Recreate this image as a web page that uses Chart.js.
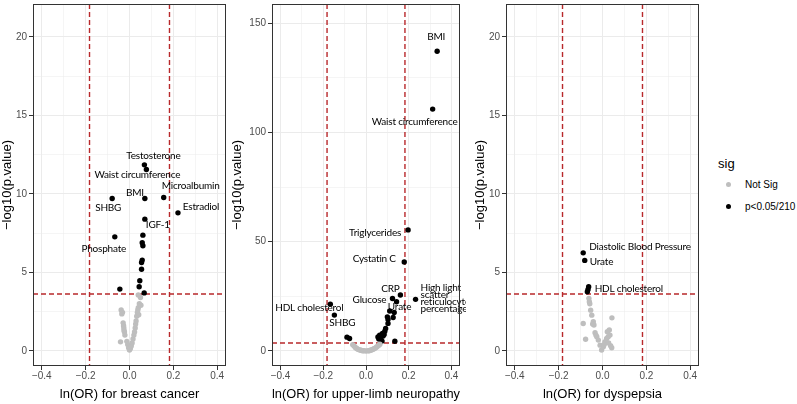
<!DOCTYPE html>
<html>
<head>
<meta charset="utf-8">
<script src="https://cdn.jsdelivr.net/npm/chart.js@4.4.0/dist/chart.umd.min.js"></script>
<style>
  body { margin: 0; background: #fff; width: 797px; height: 404px; overflow: hidden; position: relative;
         font-family: "Liberation Sans", Arial, sans-serif; }
  canvas { position: absolute; top: 0; }
  #c1 { left: 0; }
  #c2 { left: 230px; }
  #c3 { left: 473px; }
  .lg { position: absolute; line-height: 1; white-space: nowrap; }
  .dot { position: absolute; width: 5px; height: 5px; border-radius: 50%; }
</style>
</head>
<body>
<canvas id="c1" width="232" height="404"></canvas>
<canvas id="c2" width="236" height="404"></canvas>
<canvas id="c3" width="232" height="404"></canvas>

<div class="lg" style="left:718px; top:157px; font-size:13px; color:#000;">sig</div>
<div class="dot" style="left:726px; top:182px; background:#bebebe;"></div>
<div class="lg" style="left:745px; top:180px; font-size:10px; color:#000;">Not Sig</div>
<div class="dot" style="left:726px; top:204px; background:#000;"></div>
<div class="lg" style="left:745px; top:202px; font-size:10px; color:#000;">p&lt;0.05/210</div>

<script>
// ---- breast cancer ----
const bcSigX = [0.068, 0.077, 0.070, -0.079, 0.156, 0.221, 0.070, -0.067, 0.061, 0.058, 0.061, 0.058, 0.055, 0.055, 0.047, 0.044, 0.067, -0.044];
const bcSigY = [11.85, 11.55, 9.70, 9.70, 9.77, 8.79, 8.39, 7.26, 7.37, 6.88, 6.69, 5.78, 5.63, 5.20, 4.46, 4.08, 3.69, 3.93];
const bcSigNames = ['Testosterone', 'Waist circumference', 'BMI', 'SHBG', 'Microalbumin', 'Estradiol', 'IGF-1', 'Phosphate',
  '', '', '', '', '', '', '', '', '', ''];
const bcNsX = [-0.038, -0.035, -0.032, -0.029, -0.027, -0.026, -0.025, -0.023, -0.021, -0.041, -0.012, -0.008, -0.004, 0.000,
  0.004, 0.008, 0.012, 0.016, 0.020, 0.023, 0.026, 0.028, 0.030, 0.033, 0.036, 0.040, 0.045, 0.050, 0.040, 0.042, 0.038, 0.052];
const bcNsY = [2.60, 2.35, 2.45, 1.78, 1.60, 1.45, 1.30, 1.20, 1.00, 0.57, 0.60, 0.40, 0.20, 0.05,
  0.15, 0.30, 0.50, 0.75, 1.00, 1.20, 1.45, 1.70, 1.90, 2.20, 2.45, 2.75, 3.00, 3.40, 3.55, 2.30, 2.60, 2.90];

// ---- upper-limb neuropathy ----
const ulnSigX = [0.333, 0.312, 0.197, 0.179, 0.232, 0.161, 0.124, 0.143, -0.167, -0.148, -0.089, -0.077, 0.135,
  0.111, 0.132, 0.100, 0.127, 0.103, 0.103, 0.092, 0.088, 0.077, 0.064, 0.068, 0.080, 0.060, 0.070, 0.075, 0.085, 0.056];
const ulnSigY = [137.2, 110.7, 55.4, 40.7, 23.6, 25.6, 24.0, 22.5, 21.4, 16.4, 6.3, 5.7, 4.45,
  18.3, 17.6, 15.6, 15.3, 14.4, 12.6, 10.3, 9.0, 8.0, 7.2, 6.1, 6.8, 5.5, 5.0, 4.5, 7.5, 6.4];
const ulnSigNames = ['BMI', 'Waist circumference', 'Triglycerides', 'Cystatin C', 'High light\nscatter\nreticulocyte\npercentage',
  'CRP', 'Glucose', 'Urate', 'HDL cholesterol', 'SHBG', '', '', '',
  '', '', '', '', '', '', '', '', '', '', '', '', '', '', '', '', ''];
const ulnNsX = [-0.062, -0.055, -0.050, -0.045, -0.040, -0.035, -0.030, -0.025, -0.020, -0.015, -0.010, 0.000,
  0.010, 0.015, 0.020, 0.025, 0.030, 0.035, 0.040, 0.045, 0.050, 0.055, 0.060, 0.065];
const ulnNsY = [2.8, 2.2, 1.6, 1.2, 0.9, 0.6, 0.5, 0.3, 0.2, 0.1, 0.05, 0.0,
  0.05, 0.1, 0.3, 0.4, 0.6, 0.9, 1.1, 1.4, 1.8, 2.2, 2.6, 3.1];

// ---- dyspepsia ----
const dysSigX = [-0.088, -0.081, -0.063, -0.066, -0.069];
const dysSigY = [6.24, 5.76, 4.08, 3.91, 3.76];
const dysSigNames = ['Diastolic Blood Pressure', 'Urate', 'HDL cholesterol', '', ''];
const dysNsX = [-0.062, -0.060, -0.054, -0.049, -0.088, -0.042, -0.039, 0.043, -0.077, -0.034, -0.026, -0.019, -0.011,
  -0.004, 0.004, 0.011, 0.019, 0.026, 0.034, 0.031, 0.042, 0.022, 0.037, -0.030, 0.008, 0.015, -0.045, -0.058, 0.028];
const dysNsY = [3.34, 3.12, 2.59, 2.27, 1.74, 1.85, 1.64, 2.10, 0.73, 1.15, 0.89, 0.68, 0.36,
  0.05, 0.25, 0.57, 0.79, 0.90, 1.00, 1.32, 0.19, 1.21, 0.32, 1.00, 0.40, 0.60, 1.70, 3.00, 0.50];

// ticks
const xTickValues = [-0.4, -0.3, -0.2, -0.1, 0, 0.1, 0.2, 0.3, 0.4];
const yTicksSmall = [0, 2.5, 5, 7.5, 10, 12.5, 15, 17.5, 20];
const yTicksLarge = [0, 25, 50, 75, 100, 125, 150];

// thresholds: OR of 1.2 either way, Bonferroni p of 0.05/210
const orCut = Math.log(1.2);
const pCut = -Math.log10(0.05 / 210);

// label placement: [dx, dy, align] in pixels from the point
const bcLabelPos = {
  'Testosterone': [9, -9, 'center'],
  'Waist circumference': [-9, 5, 'center'],
  'BMI': [-10, -6, 'center'],
  'Microalbumin': [27, -12, 'center'],
  'SHBG': [-4, 9, 'center'],
  'Estradiol': [23, -6, 'center'],
  'IGF-1': [13, 6, 'center'],
  'Phosphate': [-11, 12, 'center']
};
const ulnLabelPos = {
  'BMI': [-1, -14, 'center'],
  'Waist circumference': [-18, 13, 'center'],
  'Triglycerides': [-33, 3, 'center'],
  'Cystatin C': [-30, -3, 'center'],
  'High light\nscatter\nreticulocyte\npercentage': [5, -1, 'left'],
  'CRP': [-10, -6, 'center'],
  'Glucose': [-23, 1, 'center'],
  'Urate': [3, 5, 'center'],
  'HDL cholesterol': [-21, 4, 'center'],
  'SHBG': [8, 8, 'center']
};
const dysLabelPos = {
  'Diastolic Blood Pressure': [6, -6, 'left'],
  'Urate': [5, 1, 'left'],
  'HDL cholesterol': [6, 2, 'left']
};

const GRID = '#ebebeb';
const LINE_RED = '#b8292b';
const TICK_FONT = { family: '"Liberation Sans", Arial, sans-serif', size: 10 };
const TITLE_FONT = { family: '"Liberation Sans", Arial, sans-serif', size: 13 };

function isMajor(v, step) {
  const r = v / step;
  return Math.abs(r - Math.round(r)) < 1e-6;
}

function fmtX(v) {
  return v.toFixed(1).replace('-', '\u2212');
}

const volcanoPlugin = {
  id: 'volcano',
  beforeDatasetsDraw(chart) {
    const { ctx, chartArea: a, scales: { x, y } } = chart;
    ctx.save();
    ctx.strokeStyle = LINE_RED;
    ctx.lineWidth = 1.4;
    ctx.setLineDash([5, 3]);
    [-orCut, orCut].forEach(v => {
      const px = x.getPixelForValue(v);
      ctx.beginPath(); ctx.moveTo(px, a.top); ctx.lineTo(px, a.bottom); ctx.stroke();
    });
    const py = y.getPixelForValue(pCut);
    ctx.beginPath(); ctx.moveTo(a.left, py); ctx.lineTo(a.right, py); ctx.stroke();
    ctx.restore();
  },
  afterDatasetsDraw(chart, args, opts) {
    const { ctx, scales: { x, y } } = chart;
    const names = opts.names, pos = opts.labelPos;
    const ds = chart.data.datasets[1].data;
    ctx.save();
    ctx.fillStyle = '#000';
    ctx.font = '10px Lato, "Open Sans", sans-serif';
    ctx.letterSpacing = '-0.2px';
    ctx.textBaseline = 'middle';
    names.forEach((name, i) => {
      if (!name || !pos[name]) return;
      const [dx, dy, align] = pos[name];
      const px = x.getPixelForValue(ds[i].x) + dx;
      const py = y.getPixelForValue(ds[i].y) + dy;
      const lines = name.split('\n');
      const lh = 7.2;
      ctx.textAlign = align;
      lines.forEach((ln, k) => {
        ctx.fillText(ln, px, py + (k - (lines.length - 1) / 2) * lh);
      });
    });
    ctx.restore();
  },
  afterDraw(chart) {
    const { ctx, chartArea: a } = chart;
    ctx.save();
    ctx.strokeStyle = '#333';
    ctx.lineWidth = 1;
    ctx.strokeRect(Math.round(a.left) + 0.5, Math.round(a.top) + 0.5,
      Math.round(a.right - a.left) - 1, Math.round(a.bottom - a.top) - 1);
    ctx.restore();
  }
};

function makeChart(id, nsX, nsY, sigX, sigY, names, labelPos, yMin, yMax, yTicks, yStep, yWidth, xTitle) {
  const toPts = (xs, ys) => xs.map((v, i) => ({ x: v, y: ys[i] }));
  return new Chart(document.getElementById(id), {
    type: 'scatter',
    data: {
      datasets: [
        { label: 'Not Sig', data: toPts(nsX, nsY), backgroundColor: '#bebebe', pointRadius: 2.7, borderWidth: 0 },
        { label: 'p<0.05/210', data: toPts(sigX, sigY), backgroundColor: '#000', pointRadius: 2.7, borderWidth: 0 }
      ]
    },
    options: {
      responsive: false,
      animation: false,
      events: [],
      layout: { padding: { top: 4, right: 6, left: 0, bottom: 0 } },
      plugins: {
        legend: { display: false },
        tooltip: { enabled: false },
        volcano: { names: names, labelPos: labelPos }
      },
      scales: {
        x: {
          type: 'linear', min: -0.44, max: 0.44,
          afterBuildTicks: s => { s.ticks = xTickValues.map(v => ({ value: v })); },
          afterFit: s => { s.height = 38; s.paddingLeft = 0; s.paddingRight = 0; },
          border: { display: false },
          grid: {
            color: GRID,
            lineWidth: c => (c.tick && isMajor(c.tick.value, 0.2)) ? 1 : 0.5,
            tickLength: 4,
            tickWidth: 1,
            tickColor: c => (c.tick && isMajor(c.tick.value, 0.2)) ? '#333' : 'rgba(0,0,0,0)'
          },
          ticks: {
            autoSkip: false, maxRotation: 0, padding: 0, color: '#4d4d4d', font: TICK_FONT,
            callback: v => isMajor(v, 0.2) ? fmtX(v) : ''
          },
          title: { display: true, text: xTitle, color: '#000', font: TITLE_FONT, padding: { top: 0, bottom: 2 } }
        },
        y: {
          type: 'linear', min: yMin, max: yMax,
          afterBuildTicks: s => { s.ticks = yTicks.map(v => ({ value: v })); },
          afterFit: s => { s.width = yWidth; s.paddingTop = 0; s.paddingBottom = 0; },
          border: { display: false },
          grid: {
            color: GRID,
            lineWidth: c => (c.tick && isMajor(c.tick.value, yStep)) ? 1 : 0.5,
            tickLength: 4,
            tickWidth: 1,
            tickColor: c => (c.tick && isMajor(c.tick.value, yStep)) ? '#333' : 'rgba(0,0,0,0)'
          },
          ticks: {
            autoSkip: false, padding: 2, color: '#4d4d4d', font: TICK_FONT,
            callback: v => isMajor(v, yStep) ? String(v) : ''
          },
          title: { display: true, text: '\u2212log10(p.value)', color: '#000', font: TITLE_FONT, padding: { top: 0, bottom: 0 } }
        }
      }
    },
    plugins: [volcanoPlugin]
  });
}

makeChart('c1', bcNsX, bcNsY, bcSigX, bcSigY, bcSigNames, bcLabelPos, -0.97, 22.1, yTicksSmall, 5, 33, 'ln(OR) for breast cancer');
makeChart('c2', ulnNsX, ulnNsY, ulnSigX, ulnSigY, ulnSigNames, ulnLabelPos, -6.9, 158.8, yTicksLarge, 50, 42, 'ln(OR) for upper-limb neuropathy');
makeChart('c3', dysNsX, dysNsY, dysSigX, dysSigY, dysSigNames, dysLabelPos, -0.97, 22.1, yTicksSmall, 5, 33, 'ln(OR) for dyspepsia');
</script>
</body>
</html>
